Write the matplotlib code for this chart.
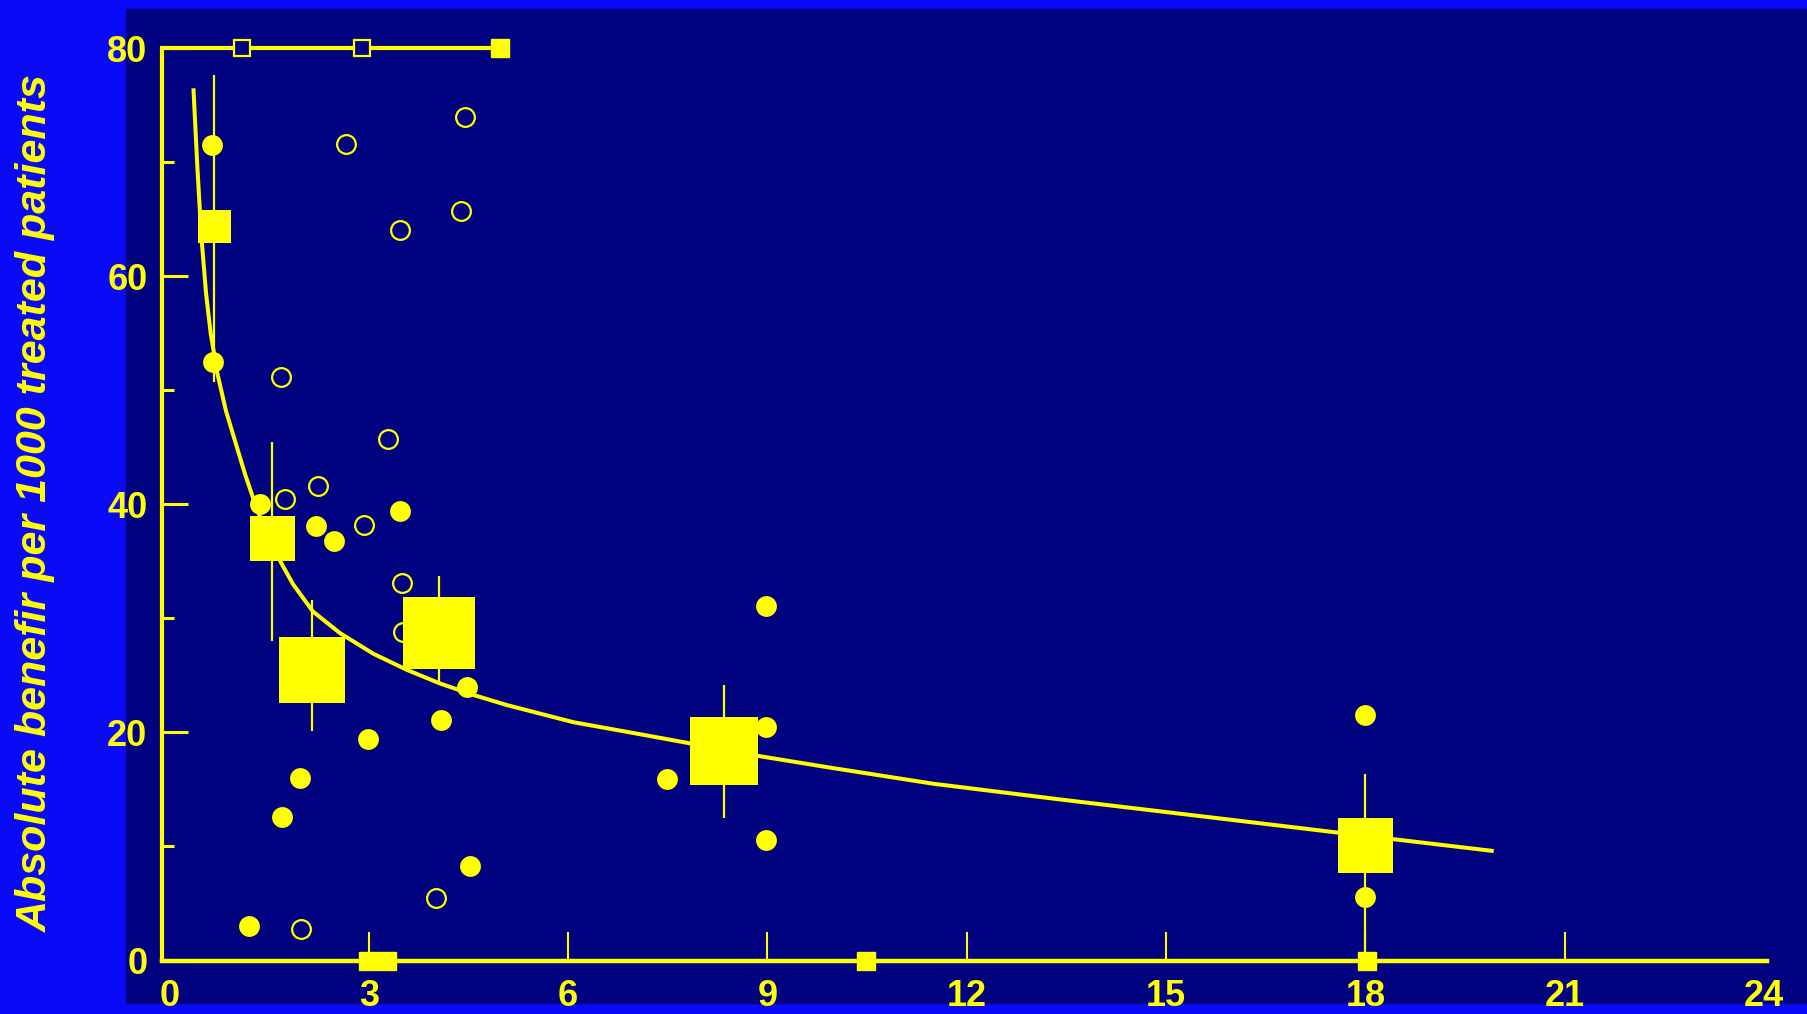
import matplotlib.pyplot as plt
from matplotlib.patches import Rectangle

# %% data
# fitted curve
fit_x = [0.36, 0.42, 0.48, 0.55, 0.62, 0.72, 0.85, 1.00, 1.14, 1.28, 1.45, 1.64, 1.86, 2.16,
         2.57, 3.07, 3.57, 4.07, 4.57, 5.08, 6.08, 7.08, 7.83, 8.80, 9.96, 11.5, 13.44, 15.75,
         17.61, 19.93]
fit_y = [76.5, 69.5, 63.5, 58.5, 55.0, 51.5, 48.2, 45.3, 42.6, 40.2, 37.6, 35.3, 33.0, 30.6,
         28.7, 26.9, 25.5, 24.3, 23.3, 22.4, 20.9, 19.85, 19.05, 18.0, 16.9, 15.5, 14.1, 12.5,
         11.2, 9.6]

# pooled estimates (big squares) with their vertical bars
box_x = [0.67, 1.55, 2.14, 4.06, 8.34, 18.0]
box_y = [64.4, 37.05, 25.5, 28.7, 18.4, 10.1]
box_lo = [50.7, 28.0, 20.1, 24.3, 12.5, 0.0]
box_hi = [77.7, 45.5, 31.6, 33.7, 24.2, 16.4]

# single trials, filled circles
filled_x = [0.64, 0.66, 1.36, 1.19, 1.69, 1.97, 2.20, 2.48, 2.98, 3.47, 4.09, 4.48, 4.53,
            7.49, 8.98, 8.98, 8.98, 17.99, 18.0]
filled_y = [71.5, 52.5, 40.0, 3.0, 12.6, 16.0, 38.1, 36.8, 19.4, 39.4, 21.1, 24.0, 8.3,
            15.9, 31.1, 20.5, 10.6, 21.5, 5.6]

# single trials, open circles
open_x = [2.65, 4.45, 3.47, 4.38, 1.68, 3.29, 1.74, 2.24, 2.93, 3.50, 3.52, 4.01, 1.98]
open_y = [71.6, 74.0, 64.1, 65.7, 51.2, 45.7, 40.5, 41.6, 38.2, 33.1, 28.8, 5.5, 2.8]

# small squares on the top line (y=80) and on the x axis (y=0)
top_open_x = [1.09, 2.89]
top_filled_x = [4.98]
top_y = 80
bottom_sq_x = [2.98, 3.28, 10.49, 18.03]

x_ticks = [0, 3, 6, 9, 12, 15, 18, 21, 24]
y_ticks = [0, 20, 40, 60, 80]
ylabel = 'Absolute benefir per 1000 treated patients'

# %% style
YEL = '#FFFF00'
BLUE = '#0A0AF8'
NAVY = '#01027F'
box_px = [33, 45, 67, 72, 68, 55]   # square sides in pixels
PT = 0.72                           # px -> pt at dpi 100

plt.rcParams['font.family'] = ['Liberation Sans', 'DejaVu Sans']

fig = plt.figure(figsize=(18.08, 10.14), dpi=100, facecolor=BLUE)
fig.patches.append(Rectangle((126 / 1808, 11 / 1014), 1.0, 994 / 1014,
                             transform=fig.transFigure, color=NAVY, zorder=-10))

ax = fig.add_axes([162 / 1808, 53.5 / 1014, (1767.4 - 162) / 1808, (965.6 - 53.5) / 1014])
ax.set_facecolor('none')
ax.set_xlim(-0.113, 24.05)
ax.set_ylim(0, 80)

for s in ['top', 'right']:
    ax.spines[s].set_visible(False)
ax.spines['left'].set_color(YEL)
ax.spines['left'].set_linewidth(3.0)
ax.spines['left'].set_bounds(0, 80)
ax.spines['bottom'].set_color(YEL)
ax.spines['bottom'].set_linewidth(3.2)

# top line with its markers
ax.hlines(top_y, -0.113, top_filled_x[-1], color=YEL, lw=3.0, clip_on=False, zorder=3)
ax.plot(top_open_x, [top_y] * len(top_open_x), 's', ms=12, mfc=NAVY, mec=YEL, mew=1.6,
        clip_on=False, zorder=4)
ax.plot(top_filled_x, [top_y] * len(top_filled_x), 's', ms=13, color=YEL, clip_on=False, zorder=4)
ax.plot(bottom_sq_x, [0] * len(bottom_sq_x), 's', ms=13, color=YEL, clip_on=False, zorder=4)

# curve
ax.plot(fit_x, fit_y, color=YEL, lw=2.9, solid_capstyle='butt', solid_joinstyle='round',
        zorder=3, clip_on=False)

# bars + squares
ax.vlines(box_x, box_lo, box_hi, color=YEL, lw=1.6, zorder=3, clip_on=False)
for bx, by, sz in zip(box_x, box_y, box_px):
    ax.plot(bx, by, 's', ms=sz * PT, color=YEL, mew=0, zorder=5)

# circles
ax.plot(filled_x, filled_y, 'o', ms=15, color=YEL, mew=0, zorder=4, clip_on=False)
ax.plot(open_x, open_y, 'o', ms=13.5, mfc='none', mec=YEL, mew=1.6, zorder=4)

# ticks
ax.set_yticks(y_ticks)
ax.set_yticks([10, 30, 50, 70], minor=True)
ax.tick_params(axis='y', which='major', direction='in', length=18.5, width=2.2,
               color=YEL, labelcolor=YEL, labelsize=26, pad=10.5)
ax.tick_params(axis='y', which='minor', direction='in', length=8.5, width=2.2, color=YEL)
ax.set_xticks(x_ticks)
ax.tick_params(axis='x', which='major', direction='in', length=21, width=1.5, color=YEL,
               labelcolor=YEL, labelsize=26, pad=13)
xt = ax.xaxis.get_major_ticks()
xt[0].tick1line.set_visible(False)
xt[-1].tick1line.set_visible(False)
for lab in ax.get_xticklabels() + ax.get_yticklabels():
    lab.set_fontweight('bold')

fig.text(36 / 1808, 0.504, ylabel, rotation=90, ha='center', va='center',
         color=YEL, fontsize=31, fontweight='bold', fontstyle='italic')

fig.savefig('out.png', dpi=100, facecolor=BLUE)
